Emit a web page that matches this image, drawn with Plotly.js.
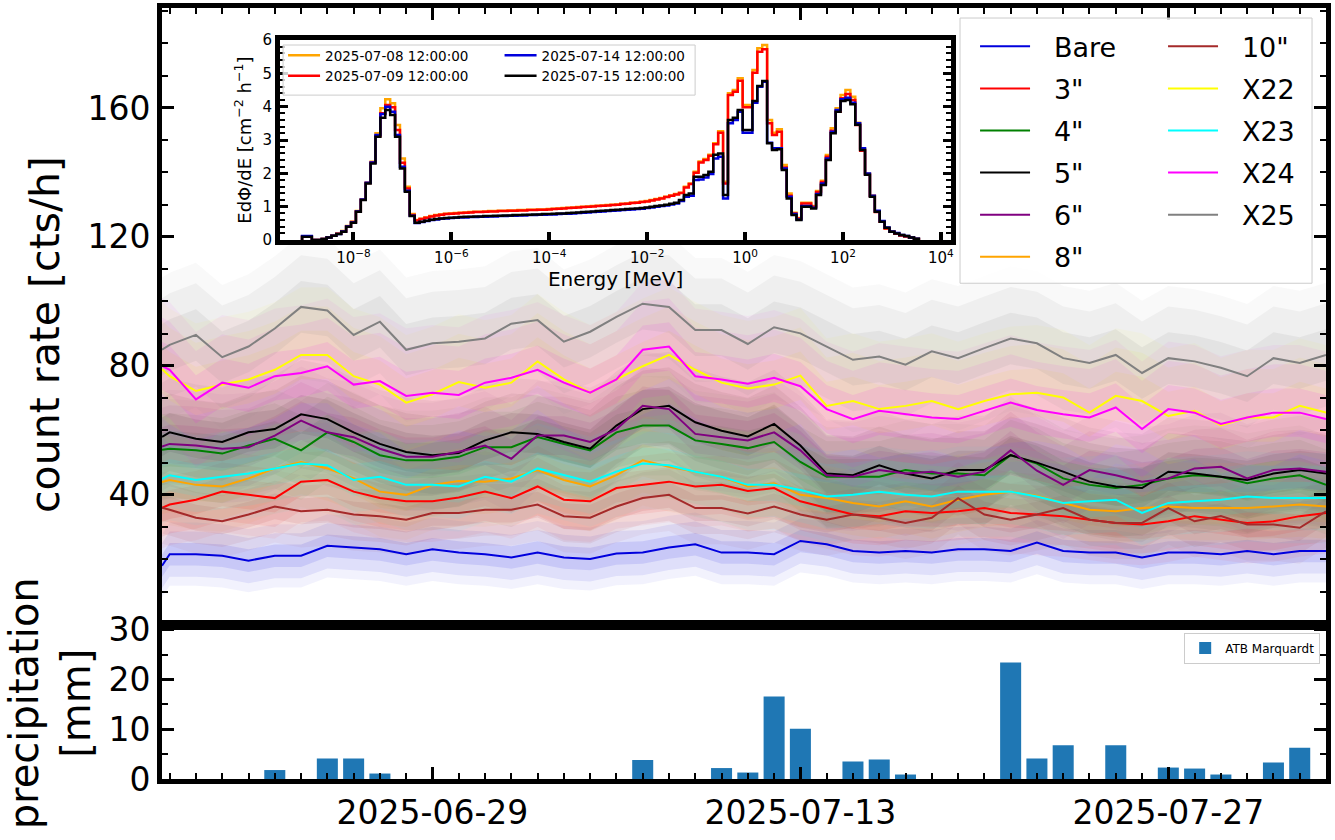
<!DOCTYPE html>
<html>
<head>
<meta charset="utf-8">
<script src="https://cdn.plot.ly/plotly-3.0.1.min.js"></script>
<style>
  html, body { margin: 0; padding: 0; background: #fff; }
  #chart { width: 1335px; height: 840px; }
</style>
</head>
<body>
<div id="chart"></div>
<script>
// ---- count rates, daily smoothed values ----
const dayStart = "2025-06-18 17:00";
const days = [dayStart];
for (let i = 0; i < 45; i++) {
  days.push(new Date(Date.UTC(2025, 5, 19 + i)).toISOString().slice(0, 10));
}

const seriesNames = ["Bare", '3"', '4"', '5"', '6"', '8"', '10"', "X22", "X23", "X24", "X25"];
const seriesColors = ["#0000dd", "#ff0000", "#008000", "#000000", "#800080", "#ffa500",
                      "#a52a2a", "#ffff00", "#00ffff", "#ff00ff", "#808080"];

const rateBare = [18, 21.6,21.6,21.1,19.6,21.1,21.1,24.2,23.7,23.1,21.6,23.1,22.1,
  21.6,20.6,22.1,20.6,20.1,21.8,22.1,23.7,24.7,22.1,22.1,
  21.6,25.7,24.7,22.6,22.1,22.6,22.1,23.1,23.1,22.6,25.2,
  22.6,22.1,22.1,20.6,22.1,22.1,21.6,22.6,21.6,22.6,22.6];
const rate3 = [36, 37,38.5,41,40,39,44.1,44.6,41,39,38,38,39.2,
  41,39,42.6,38.5,38,42.1,43.1,44.1,42.6,43.1,41.2,
  42.1,38,35.9,33.9,33.4,34.9,34.4,34.9,35.9,34.4,33.9,
  33.4,32.3,31.3,30.8,31.8,33.4,32.3,31.3,31.8,33.4,34.4];
const rate4 = [54, 54.3,53.8,52.8,55.3,57.4,53.8,59.4,56.4,52.3,50.7,50.7,51.8,
  54.8,54.8,57.9,55.8,53.8,59.4,61.5,61.5,56.9,55.8,54.5,
  56.4,50.2,45.6,45.6,45.6,47.7,46.6,46.6,46.1,52.3,49.7,
  45.1,43.1,42.1,43.1,45.1,46.1,45.6,43.6,45.1,46.1,43.1];
const rate5 = [58, 59.4,57.4,56.4,59.4,60.4,65,63.5,59.4,55.8,53.3,52.3,53,
  56.9,59.4,58.9,56.4,54.3,61.5,66.6,67.6,62.5,59.9,58.1,
  62,55.3,46.6,46.1,49.2,46.6,45.1,47.7,47.7,52.3,50,
  47.2,44.1,42.6,42.1,47.2,46.6,45.6,44.6,46.6,47.7,46.6];
const rate6 = [55, 55.8,55.3,54.3,54.8,58.4,63,59.4,57.9,54.3,51.8,51.8,53.4,
  55.3,51.2,58.4,58.4,56.4,60.4,67.6,66.6,58.9,57.9,56.9,
  59.4,53.8,46.1,45.6,47.7,46.6,47.2,45.6,47.2,53.8,47.5,
  43.1,47.7,46.1,44.1,45.1,48.2,48.7,45.1,47.7,48.2,47.2];
const rate8 = [44, 44.6,43.1,42.6,45.1,48.2,50.2,48.2,45.1,41,40,43.1,44.3,
  44.1,45.1,47.7,44.6,42.6,46.1,50.7,48.7,47.2,45.6,42.6,
  43.6,40,39,37.5,36.4,38,36.4,38.5,40,41,39.7,
  37.5,35.4,34.9,35.9,36.4,35.9,35.9,35.9,36.4,37,36.4];
const rate10 = [36, 35.4,32.9,31.8,33.9,36.4,34.9,35.4,33.9,33.4,32.3,34.4,34.4,
  35.4,35.4,37,33.4,32.9,36.4,39,40,35.9,35.9,34.2,
  36.4,33.9,32.3,33.9,32.9,31.3,32.9,39,33.9,32.3,33.9,
  35.9,32.3,31.3,31.3,35.9,31.8,33.4,30.8,30.8,29.8,34.9];
const rateX22 = [79, 76.8,72.2,74.2,75.8,78.8,83.4,83.4,76.8,74.2,68.6,71.2,75,
  73.2,74.8,81.4,75.8,71.7,75.8,79.9,83.4,78.8,74.8,73,
  74.2,77,67.6,69.1,66.6,67.6,69.1,66.6,69.1,71.2,71.7,
  70.2,65.5,70.7,69.1,64.5,66.1,61.5,64,64,67.6,65.5];
const rateX23 = [45, 46.1,44.6,45.6,46.6,48.2,49.7,49.2,44.6,45.6,43.1,43.1,42.6,
  45.6,44.1,48.2,46.1,44.1,47.2,49.7,49.2,47.2,45.6,43.1,
  43.1,41.5,39.5,40,41,40,39.5,41,41,41,39.5,
  37.5,38,38.5,34.4,37.5,38,38.5,39.5,39,39,39];
const rateX24 = [80, 78.8,69.6,74.8,73.2,76.8,77.8,79.9,74.2,75.3,70.7,71.7,71,
  74.8,76.3,78.8,74.8,71.7,75.8,85,86,76.8,75.8,74.5,
  76.3,73.7,66.6,63.5,66.1,65,64,63.5,66.1,68.6,66.3,
  65,64,67.1,60.4,66.6,65.5,62,64,65.5,65.5,63.5];
const rateX25 = [85, 86.5,89.6,82.7,86,91.6,98.3,97.2,89.6,93.7,85,87,87.5,
  88.5,93.1,94.2,87.5,90.6,95.2,99.3,98.3,91.1,91.1,86.8,
  92,90.1,86,81.9,82.9,80.4,84.5,82.4,85.5,88.5,87,
  82.4,80.9,83.4,77.8,82.4,81.4,79.4,76.8,82.4,80.9,83.4];

// typical half-spread of the hourly raw counts around the smoothed line
const rawSpread = [7, 9, 11, 12, 12, 10, 8, 15, 10, 15, 16];

// ---- precipitation ----
const precipDays = ["2025-06-23","2025-06-25","2025-06-26","2025-06-27","2025-07-07","2025-07-10",
  "2025-07-11","2025-07-12","2025-07-13","2025-07-15","2025-07-16","2025-07-17","2025-07-21",
  "2025-07-22","2025-07-23","2025-07-25","2025-07-27","2025-07-28","2025-07-29","2025-07-31","2025-08-01"];
const precipMm = [1.8, 4.1, 4.1, 1.1, 3.8, 2.2, 1.3, 16.6, 10.1, 3.5, 3.9, 0.9, 23.4,
  4.1, 6.8, 6.8, 2.3, 2.1, 0.9, 3.3, 6.3];

// ---- inset spectra, 10 bins per decade, first bin centred at 1e-9 MeV ----
const binLogStart = -9.05;
const binLogWidth = 0.1;
const specNames = ["2025-07-08 12:00:00", "2025-07-09 12:00:00", "2025-07-14 12:00:00", "2025-07-15 12:00:00"];
const specColors = ["#ffa500", "#ff0000", "#0000dd", "#000000"];
const energyTicks = [1e-8, 1e-6, 1e-4, 1e-2, 1, 1e2, 1e4];
const energyTickText = ["10<sup>−8</sup>", "10<sup>−6</sup>", "10<sup>−4</sup>", "10<sup>−2</sup>",
  "10<sup>0</sup>", "10<sup>2</sup>", "10<sup>4</sup>"];
const spec0708 = [0.1,0.1,0,0,0.03,0.08,0.13,0.19,0.27,0.42,
  0.55,0.87,1.22,1.72,2.35,3.2,3.95,4.22,4.1,3.45,
  2.45,1.6,0.78,0.6,0.64,0.68,0.72,0.75,0.77,0.79,
  0.8,0.81,0.82,0.83,0.84,0.85,0.85,0.86,0.87,0.87,
  0.88,0.88,0.89,0.89,0.9,0.9,0.91,0.91,0.92,0.92,
  0.93,0.94,0.95,0.96,0.97,0.98,0.99,1.0,1.01,1.02,
  1.03,1.04,1.05,1.06,1.07,1.09,1.1,1.12,1.13,1.15,
  1.17,1.2,1.23,1.26,1.3,1.34,1.38,1.42,1.6,1.7,
  2.05,2.36,2.43,2.56,2.9,3.26,1.75,4.4,4.5,4.85,
  4.05,4.05,5.1,5.75,5.85,3.6,3.22,3.32,2.25,1.4,
  0.82,0.66,1.12,1.12,1.02,1.47,1.78,2.55,3.35,3.95,
  4.35,4.5,4.3,3.52,2.72,2.0,1.33,0.85,0.55,0.35,
  0.25,0.19,0.14,0.11,0.07,0.03];
const spec0709 = [0.1,0.1,0,0,0.03,0.08,0.13,0.19,0.26,0.41,
  0.54,0.86,1.21,1.71,2.33,3.12,3.8,4.05,3.98,3.3,
  2.32,1.55,0.75,0.59,0.63,0.67,0.71,0.74,0.76,0.78,
  0.79,0.8,0.81,0.82,0.83,0.84,0.84,0.85,0.86,0.86,
  0.87,0.87,0.88,0.88,0.89,0.89,0.9,0.9,0.91,0.91,
  0.92,0.93,0.94,0.95,0.96,0.97,0.98,0.99,1.0,1.01,
  1.02,1.03,1.04,1.05,1.06,1.08,1.09,1.11,1.12,1.14,
  1.16,1.19,1.22,1.25,1.29,1.33,1.37,1.41,1.58,1.68,
  2.02,2.33,2.4,2.53,2.87,3.22,1.7,4.35,4.45,4.78,
  3.98,3.98,5.02,5.65,5.72,3.5,3.15,3.25,2.18,1.33,
  0.8,0.65,1.1,1.1,1.0,1.44,1.74,2.5,3.28,3.85,
  4.25,4.38,4.2,3.45,2.68,1.97,1.32,0.84,0.55,0.35,
  0.25,0.19,0.14,0.11,0.07,0.03];
const spec0714 = [0.12,0.12,0,0,0.03,0.08,0.13,0.18,0.26,0.41,
  0.53,0.86,1.22,1.72,2.33,3.15,3.78,4.0,3.85,3.15,
  2.2,1.48,0.73,0.51,0.54,0.57,0.6,0.62,0.64,0.65,
  0.66,0.67,0.68,0.68,0.69,0.69,0.7,0.7,0.71,0.71,
  0.72,0.72,0.73,0.73,0.74,0.74,0.75,0.75,0.76,0.76,
  0.77,0.77,0.78,0.79,0.79,0.8,0.81,0.82,0.83,0.84,
  0.85,0.86,0.87,0.88,0.89,0.9,0.91,0.92,0.93,0.94,
  0.96,0.98,1.0,1.02,1.04,1.07,1.1,1.17,1.3,1.33,
  1.8,1.82,1.88,1.98,2.45,2.5,1.25,3.5,3.6,3.85,
  3.22,3.22,4.12,4.6,4.75,2.92,2.75,2.75,2.15,1.3,
  0.78,0.62,1.02,1.02,0.97,1.38,1.7,2.45,3.25,3.9,
  4.22,4.27,4.12,3.5,2.75,2.0,1.33,0.88,0.57,0.38,
  0.26,0.21,0.15,0.12,0.08,0.04];
const spec0715 = [0.1,0.1,0,0,0.03,0.08,0.13,0.18,0.25,0.4,
  0.52,0.85,1.2,1.7,2.3,3.1,3.67,3.9,3.75,3.1,
  2.15,1.45,0.72,0.52,0.55,0.58,0.61,0.63,0.65,0.66,
  0.67,0.68,0.69,0.7,0.7,0.71,0.71,0.72,0.72,0.73,
  0.73,0.74,0.74,0.75,0.75,0.76,0.76,0.77,0.77,0.78,
  0.78,0.79,0.8,0.8,0.81,0.82,0.83,0.84,0.85,0.86,
  0.87,0.88,0.89,0.9,0.91,0.92,0.93,0.94,0.95,0.96,
  0.98,1.0,1.02,1.04,1.06,1.09,1.12,1.2,1.35,1.4,
  1.9,1.9,1.95,2.05,2.56,2.6,1.35,3.6,3.67,3.9,
  3.3,3.3,4.17,4.62,4.77,2.9,2.7,2.72,2.1,1.25,
  0.75,0.6,1.0,1.0,0.95,1.35,1.65,2.4,3.2,3.85,
  4.17,4.2,4.07,3.46,2.7,1.96,1.3,0.85,0.55,0.37,
  0.25,0.2,0.15,0.12,0.08,0.04];

// ---- helpers ----
const FONT = "DejaVu Sans, Liberation Sans, sans-serif";
const DAY_MS = 86400000;
const xRange = ["2025-06-18 17:00", "2025-08-02 00:00"];
const LEGEND_PAD = "\u2002\u2009"; // matplotlib leaves a wider gap between handle and label

function rgba(hex, a) {
  const n = parseInt(hex.slice(1), 16);
  return `rgba(${n >> 16},${(n >> 8) & 255},${n & 255},${a})`;
}

const binEdges = [];
for (let i = 0; i <= spec0708.length; i++) binEdges.push(Math.pow(10, binLogStart + i * binLogWidth));

function stepXY(vals) {
  const x = [binEdges[0]], y = [0];
  vals.forEach((v, i) => { x.push(binEdges[i]); y.push(v); });
  x.push(binEdges[vals.length], binEdges[vals.length]);
  y.push(vals[vals.length - 1], 0);
  return { x, y };
}

// ---- traces ----
const rateSeries = [rateBare, rate3, rate4, rate5, rate6, rate8, rate10, rateX22, rateX23, rateX24, rateX25];
const traces = [];

// raw hourly scatter, drawn as nested translucent bands (outer ones fainter)
const daysBack = days.slice().reverse();
const bandLevels = [[1.4, 0.05], [1, 0.08], [0.5, 0.1]];
rateSeries.forEach((vals, k) => {
  bandLevels.forEach(([f, a]) => {
    const hi = vals.map(v => v + rawSpread[k] * f);
    const lo = vals.map(v => v - rawSpread[k] * f).reverse();
    traces.push({
      type: "scatter", mode: "lines", xaxis: "x", yaxis: "y",
      x: days.concat(daysBack), y: hi.concat(lo),
      fill: "toself", fillcolor: rgba(seriesColors[k], a),
      line: { width: 0 }, hoverinfo: "skip", showlegend: false
    });
  });
});

rateSeries.forEach((vals, k) => {
  traces.push({
    type: "scatter", mode: "lines", xaxis: "x", yaxis: "y",
    x: days, y: vals, name: LEGEND_PAD + seriesNames[k],
    line: { color: seriesColors[k], width: 2 },
    legend: k < 6 ? "legend" : "legend2", legendgroup: seriesNames[k]
  });
});

[spec0708, spec0709, spec0714, spec0715].forEach((vals, k) => {
  const s = stepXY(vals);
  traces.push({
    type: "scatter", mode: "lines", xaxis: "x3", yaxis: "y3",
    x: s.x, y: s.y, name: specNames[k],
    line: { color: specColors[k], width: 2.5, shape: "hv" },
    legend: k < 2 ? "legend3" : "legend4"
  });
});

traces.push({
  type: "bar", xaxis: "x2", yaxis: "y2",
  x: precipDays, y: precipMm, width: 0.8 * DAY_MS,
  marker: { color: "#1f77b4" }, name: "ATB Marquardt", legend: "legend5"
});

// ---- layout ----
const tickFont = { family: FONT, size: 33, color: "#000" };
const frame = {
  showline: true, linecolor: "#000", linewidth: 5,
  ticks: "inside", ticklen: 12, tickwidth: 3, tickcolor: "#000",
  showgrid: false, zeroline: false, tickfont: tickFont
};
const minorDay = { ticks: "inside", ticklen: 6, tickwidth: 2, tickcolor: "#000", dtick: DAY_MS, tick0: "2025-06-29" };
const bigLegend = { xanchor: "left", yanchor: "top", bgcolor: "rgba(0,0,0,0)",
  font: { family: FONT, size: 27, color: "#000" }, traceorder: "grouped", tracegroupgap: 4, itemwidth: 50 };
const smallLegend = { xanchor: "left", yanchor: "top", bgcolor: "rgba(0,0,0,0)",
  font: { family: FONT, size: 13.5, color: "#000" }, itemwidth: 32 };

const layout = {
  width: 1335, height: 840,
  margin: { l: 162, r: 9, t: 8, b: 61 },
  paper_bgcolor: "#fff", plot_bgcolor: "#fff",
  font: { family: FONT, color: "#000" },
  hovermode: false,
  xaxis: { ...frame, type: "date", domain: [0, 1], anchor: "y", side: "top", mirror: true,
    range: xRange, dtick: 14 * DAY_MS, tick0: "2025-06-29", showticklabels: false, minor: minorDay },
  yaxis: { ...frame, domain: [0.2, 1], anchor: "x", mirror: "allticks", range: [-0.3, 191],
    tickmode: "array", tickvals: [40, 80, 120, 160],
    minor: { ticks: "inside", ticklen: 6, tickwidth: 2, tickcolor: "#000", dtick: 10, tick0: 0 } },
  xaxis2: { ...frame, type: "date", domain: [0, 1], anchor: "y2", mirror: true,
    range: xRange, dtick: 14 * DAY_MS, tick0: "2025-06-29", tickformat: "%Y-%m-%d", minor: minorDay },
  yaxis2: { ...frame, domain: [0, 0.2], anchor: "x2", mirror: "allticks", range: [0, 31],
    dtick: 10, tick0: 0,
    minor: { ticks: "inside", ticklen: 6, tickwidth: 2, tickcolor: "#000", dtick: 5, tick0: 0 } },
  xaxis3: { ...frame, type: "log", domain: [0.1014, 0.678], anchor: "y3", mirror: true,
    range: [-9.5, 4.21], tickmode: "array", tickvals: energyTicks, ticktext: energyTickText,
    ticklen: 8, tickwidth: 4, tickfont: { family: FONT, size: 15, color: "#000" },
    title: { text: "Energy [MeV]", font: { family: FONT, size: 20, color: "#000" }, standoff: 6 } },
  yaxis3: { ...frame, domain: [0.699, 0.9585], anchor: "x3", mirror: "allticks",
    range: [0, 6], dtick: 1, tick0: 0, ticklen: 8, tickwidth: 3,
    tickfont: { family: FONT, size: 15, color: "#000" },
    minor: { ticks: "inside", ticklen: 5, tickwidth: 2, tickcolor: "#000", dtick: 0.2, tick0: 0 },
    title: { text: "EdΦ/dE [cm<sup>−2</sup> h<sup>−1</sup>]", font: { family: FONT, size: 18, color: "#000" }, standoff: 8 } },
  legend: { ...bigLegend, x: 0.6985, y: 0.9815 },
  legend2: { ...bigLegend, x: 0.86, y: 0.9815 },
  legend3: { ...smallLegend, x: 0.104, y: 0.9585 },
  legend4: { ...smallLegend, x: 0.29, y: 0.9585 },
  legend5: { x: 0.995, y: 0.19, xanchor: "right", yanchor: "top", bgcolor: "rgba(255,255,255,0.85)",
    bordercolor: "#cccccc", borderwidth: 1, font: { family: FONT, size: 12, color: "#000" } },
  shapes: [
    { type: "rect", xref: "paper", yref: "paper", x0: 0.6856, x1: 0.988, y0: 0.643, y1: 0.987,
      fillcolor: "rgba(255,255,255,0.8)", line: { color: "#cccccc", width: 1 }, layer: "above" },
    { type: "rect", xref: "paper", yref: "paper", x0: 0.104, x1: 0.458, y0: 0.887, y1: 0.952,
      fillcolor: "rgba(255,255,255,0.8)", line: { color: "#cccccc", width: 1 }, layer: "above" }
  ],
  annotations: [
    { text: "count rate [cts/h]", xref: "paper", yref: "paper", x: -0.1005, y: 0.576,
      xanchor: "center", yanchor: "middle",
      textangle: -90, showarrow: false, font: { family: FONT, size: 41, color: "#000" } },
    { text: "precipitation<br>[mm]", xref: "paper", yref: "paper", x: -0.0955, y: 0.098,
      xanchor: "center", yanchor: "middle",
      textangle: -90, showarrow: false, font: { family: FONT, size: 40, color: "#000" } }
  ]
};

Plotly.newPlot("chart", traces, layout, { displayModeBar: false, staticPlot: true });
</script>
</body>
</html>
